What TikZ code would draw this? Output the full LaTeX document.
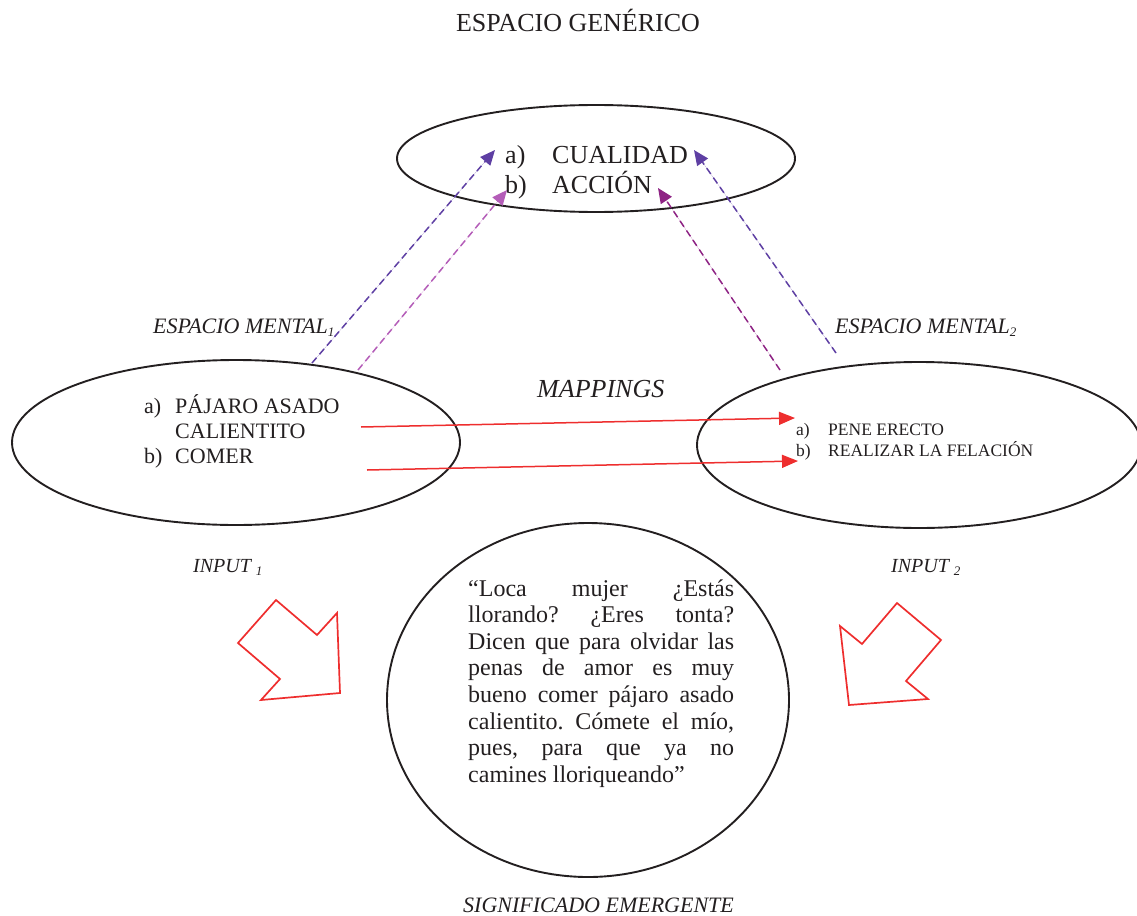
\documentclass[tikz,border=0pt]{standalone}
\usepackage{fontspec}
\setmainfont{Liberation Serif}
\usetikzlibrary{shapes.geometric,arrows.meta}
\definecolor{dpurple}{HTML}{5E3FA3}
\definecolor{lpurple}{HTML}{B45DB8}
\definecolor{dmagenta}{HTML}{8E2384}
\definecolor{redarr}{HTML}{EE2E2E}
\definecolor{ink}{HTML}{231F20}
\newcommand{\fsz}[1]{\fontsize{#1}{#1}\selectfont}
\newcommand{\subdig}[1]{\raisebox{-3pt}{\fsz{13}#1}}
\frenchspacing
\begin{document}
\begin{tikzpicture}[x=1pt,y=-1pt,
  oval/.style={ellipse,draw=ink,line width=1.9pt,inner sep=0pt},
  txt/.style={anchor=base west,inner sep=0pt,text=ink},
  dasharrow/.style={line width=1.5pt,dash pattern=on 7pt off 4.5pt,-{Triangle[length=15pt,width=13pt]}},
  maparrow/.style={draw=redarr,line width=1.5pt,-{Triangle[length=16pt,width=13pt]}},
  blockarrow/.style={draw=redarr,line width=1.7pt,line join=miter}]
\useasboundingbox (0,0) rectangle (1137,915);

% title
\node[anchor=base,inner sep=0pt,text=ink,font=\fsz{26}] (title) at (578,32) {ESPACIO GENÉRICO};

% ellipses
\node[oval,minimum width=398pt,minimum height=107pt] (gen) at (596,158.5) {};
\node[oval,minimum width=448pt,minimum height=165pt] (in1) at (236,442.5) {};
\node[oval,minimum width=444pt,minimum height=166pt] (in2) at (919,445) {};
\node[oval,minimum width=402pt,minimum height=354pt] (em) at (588,700) {};

% generic space text
\node[txt,font=\fsz{26}] (ga) at (505,163) {a)};
\node[txt,font=\fsz{26}] (gat) at (552,163) {CUALIDAD};
\node[txt,font=\fsz{26}] (gb) at (505,193) {b)};
\node[txt,font=\fsz{26}] (gbt) at (552,193) {ACCIÓN};

% input 1 text
\node[txt,font=\fsz{22}] (ia) at (144,413) {a)};
\node[txt,font=\fsz{22}] (iat) at (175,413) {PÁJARO ASADO};
\node[txt,font=\fsz{22}] (iat2) at (175,438) {CALIENTITO};
\node[txt,font=\fsz{22}] (ib) at (144,463) {b)};
\node[txt,font=\fsz{22}] (ibt) at (175,463) {COMER};

% input 2 text
\node[txt,font=\fsz{17.5}] (ja) at (796,435) {a)};
\node[txt,font=\fsz{17.5}] (jat) at (828,435) {PENE ERECTO};
\node[txt,font=\fsz{17.5}] (jb) at (796,456) {b)};
\node[txt,font=\fsz{17.5}] (jbt) at (828,456) {REALIZAR LA FELACIÓN};

% labels
\node[txt,font=\fsz{22}\itshape] (em1) at (153,333) {ESPACIO MENTAL\subdig{1}};
\node[txt,font=\fsz{22}\itshape] (em2) at (835,333) {ESPACIO MENTAL\subdig{2}};
\node[txt,font=\fsz{26}\itshape] (map) at (537,397) {MAPPINGS};
\node[txt,font=\fsz{20}\itshape] (lin1) at (193,572) {INPUT \subdig{1}};
\node[txt,font=\fsz{20}\itshape] (lin2) at (891,572) {INPUT \subdig{2}};
\node[txt,font=\fsz{22}\itshape] (sig) at (463,912) {SIGNIFICADO EMERGENTE};

% quote
\begin{scope}[every node/.style={txt,font=\fsz{24}}]
\node (q1) at (468,596) {\makebox[266pt][s]{“Loca mujer ¿Estás}};
\node (q2) at (468,622.6) {\makebox[266pt][s]{llorando? ¿Eres tonta?}};
\node (q3) at (468,649.2) {\makebox[266pt][s]{Dicen que para olvidar las}};
\node (q4) at (468,675.8) {\makebox[266pt][s]{penas de amor es muy}};
\node (q5) at (468,702.4) {\makebox[266pt][s]{bueno comer pájaro asado}};
\node (q6) at (468,729) {\makebox[266pt][s]{calientito. Cómete el mío,}};
\node (q7) at (468,755.6) {\makebox[266pt][s]{pues, para que ya no}};
\node (q8) at (468,782.2) {camines lloriqueando”};
\end{scope}

% dashed arrow endpoints
\coordinate (s1) at (312,363); \coordinate (t1) at (495,150);
\coordinate (s2) at (358,370); \coordinate (t2) at (507,190);
\coordinate (s3) at (780,370); \coordinate (t3) at (658,188);
\coordinate (s4) at (836,353); \coordinate (t4) at (694,150);
\draw[dasharrow,draw=dpurple,fill=dpurple] (s1) -- (t1);
\draw[dasharrow,draw=lpurple,fill=lpurple] (s2) -- (t2);
\draw[dasharrow,draw=dmagenta,fill=dmagenta] (s3) -- (t3);
\draw[dasharrow,draw=dpurple,fill=dpurple] (s4) -- (t4);

% mapping arrows
\coordinate (m1s) at (361,427); \coordinate (m1t) at (795,418);
\coordinate (m2s) at (367,470); \coordinate (m2t) at (798,461);
\draw[maparrow,fill=redarr] (m1s) -- (m1t);
\draw[maparrow,fill=redarr] (m2s) -- (m2t);

% block arrows
\draw[blockarrow] (276,600) -- (317,635) -- (337,613) -- (340,693) -- (261,700) -- (280,679) -- (238,643) -- cycle;
\draw[blockarrow] (897,603) -- (941,640) -- (906,681) -- (928,699) -- (849,705) -- (840,626) -- (862,644) -- cycle;
\end{tikzpicture}
\end{document}
